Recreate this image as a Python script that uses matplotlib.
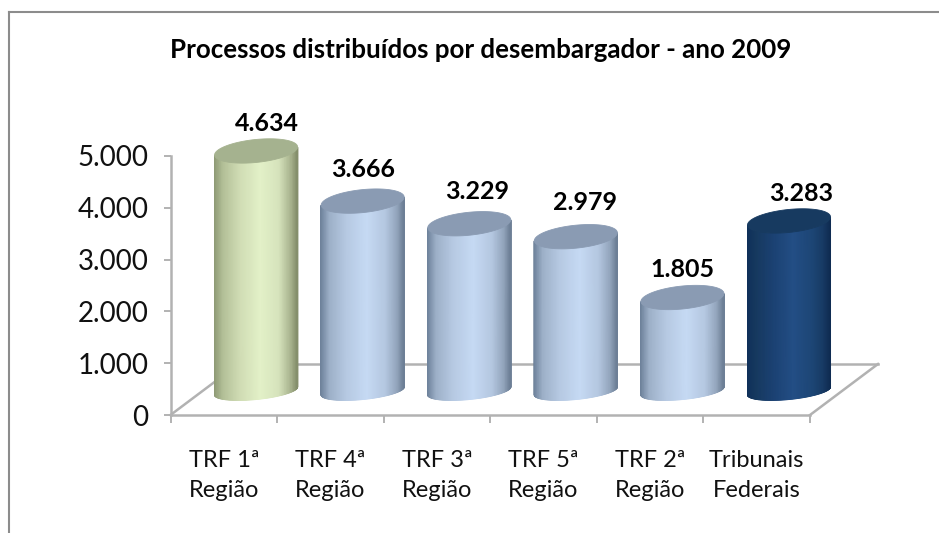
import numpy as np
import matplotlib
matplotlib.use("Agg")
import matplotlib.pyplot as plt
from matplotlib.colors import LinearSegmentedColormap
from matplotlib.patches import Polygon
from matplotlib.lines import Line2D

# ---- data ----
title = "Processos distribuídos por desembargador - ano 2009"
categories = ["TRF 1ª\nRegião", "TRF 4ª\nRegião", "TRF 3ª\nRegião",
              "TRF 5ª\nRegião", "TRF 2ª\nRegião", "Tribunais\nFederais"]
values = [4634, 3666, 3229, 2979, 1805, 3283]
value_labels = ["4.634", "3.666", "3.229", "2.979", "1.805", "3.283"]
y_ticks = [0, 1000, 2000, 3000, 4000, 5000]
y_tick_labels = ["0", "1.000", "2.000", "3.000", "4.000", "5.000"]
label_offsets = [(10.5, 27), (0.5, 32), (8, 32), (9, 34), (0, 28), (12, 27)]

greens = ["#8f9b76", "#b3c098", "#d0dcb4", "#e3f1c8", "#d6e3bc", "#aab590", "#858f6c"]
blues = ["#6f839c", "#9db0c8", "#b6c9e2", "#c6daf4", "#b4c7e0", "#93a5bc", "#6d7f96"]
darks = ["#10305a", "#16395f", "#1b4172", "#234e85", "#1d4676", "#173a64", "#0f2c52"]
palette = [greens, blues, blues, blues, blues, darks]
tops = ["#a5b28f", "#8a9bb3", "#8a9bb3", "#8a9bb3", "#8a9bb3", "#173a60"]

W, H = 939, 533
plt.rcParams["font.family"] = ["Lato", "DejaVu Sans"]
fig = plt.figure(figsize=(W / 100, H / 100), dpi=100)
L, R, T, B = 170.5, 810, 156, 415
ax = fig.add_axes([L / W, 1 - B / H, (R - L) / W, (B - T) / H])
ax.set_xlim(-0.5, 5.5)
ax.set_ylim(0, 5000)
ax.patch.set_visible(False)

# 3D projection constants, in data units
px, py = (R - L) / 6, (B - T) / 5000
base_dx, base_dy = 32.3 / px, 24 / py
semi_a, semi_top, semi_bot, tilt = 41.5 / px, 11.5 / py, 8.5 / py, 4 / py
depth_x, depth_y = 68 / px, 51 / py

GRAY = "#b2b2b2"
for s in ("top", "right"):
    ax.spines[s].set_visible(False)
for s in ("left", "bottom"):
    ax.spines[s].set_color(GRAY)
    ax.spines[s].set_linewidth(1.8)

# floor
floor = dict(color=GRAY, lw=1.8, zorder=1, clip_on=False)
ax.plot([-0.5, -0.5 + depth_x], [0, depth_y], **floor)
ax.plot([-0.5 + depth_x, 5.5 + depth_x], [depth_y, depth_y], **floor)
ax.plot([5.5, 5.5 + depth_x], [0, depth_y], **floor)

t_front = np.linspace(np.pi, 2 * np.pi, 121)
t_all = np.linspace(0, 2 * np.pi, 200)


def ell(cx, cy, t, semi_b):
    return cx + semi_a * np.cos(t), cy + semi_b * np.sin(t) + tilt * np.cos(t)


for i, (v, cols, top) in enumerate(zip(values, palette, tops)):
    cx, y0 = i + base_dx, base_dy
    y1 = y0 + v
    xb, yb = ell(cx, y0, t_front, semi_bot)
    xt, yt = ell(cx, y1, t_front, semi_top)
    cmap = LinearSegmentedColormap.from_list(
        "c", list(zip([0, 0.1, 0.3, 0.55, 0.78, 0.92, 1], cols)))
    X = np.vstack([xb, xt])
    Y = np.vstack([yb, yt])
    C = np.vstack([(xb - xb.min()) / (xb.max() - xb.min())] * 2)
    ax.pcolormesh(X, Y, C, cmap=cmap, vmin=0, vmax=1, shading="gouraud",
                  zorder=3, clip_on=False)
    xe, ye = ell(cx, y1, t_all, semi_top)
    ax.add_patch(Polygon(np.c_[xe, ye], closed=True, fc=top, ec=top, lw=0.6,
                         zorder=4, clip_on=False))
    ax.annotate(value_labels[i], xy=(cx, y1),
                xytext=(label_offsets[i][0] * 0.72, label_offsets[i][1] * 0.72),
                textcoords="offset points", ha="center", va="center", fontsize=18,
                fontweight="bold", color="black", zorder=6, annotation_clip=False)

ax.set_xlim(-0.5, 5.5)
ax.set_ylim(0, 5000)

# axes ticks
ax.set_yticks(y_ticks, y_tick_labels, fontsize=20, color="#111111")
ax.tick_params(axis="y", length=5, width=1.4, color=GRAY, pad=11)
ax.set_xticks(range(len(categories)), categories, fontsize=17, color="#111111", linespacing=1.5)
ax.set_xticks(np.arange(-0.5, 6), minor=True)
ax.tick_params(axis="x", which="major", length=0, pad=25.5)
ax.tick_params(axis="x", which="minor", length=6, width=1.4, color=GRAY)

ax.set_title(title, x=(481 - L) / (R - L), y=(B - 50) / (B - T), va="center", pad=0,
             fontsize=18.6, fontweight="bold", color="black")

# picture frame: top and left only
frame = dict(color="#8c8c8c", lw=1.5, transform=fig.transFigure)
fig.add_artist(Line2D([9 / W, 1], [1 - 11.5 / H, 1 - 11.5 / H], **frame))
fig.add_artist(Line2D([9 / W, 9 / W], [1 - 11.5 / H, 1 - 532 / H], **frame))

fig.savefig("out.png", dpi=100, facecolor="white")
